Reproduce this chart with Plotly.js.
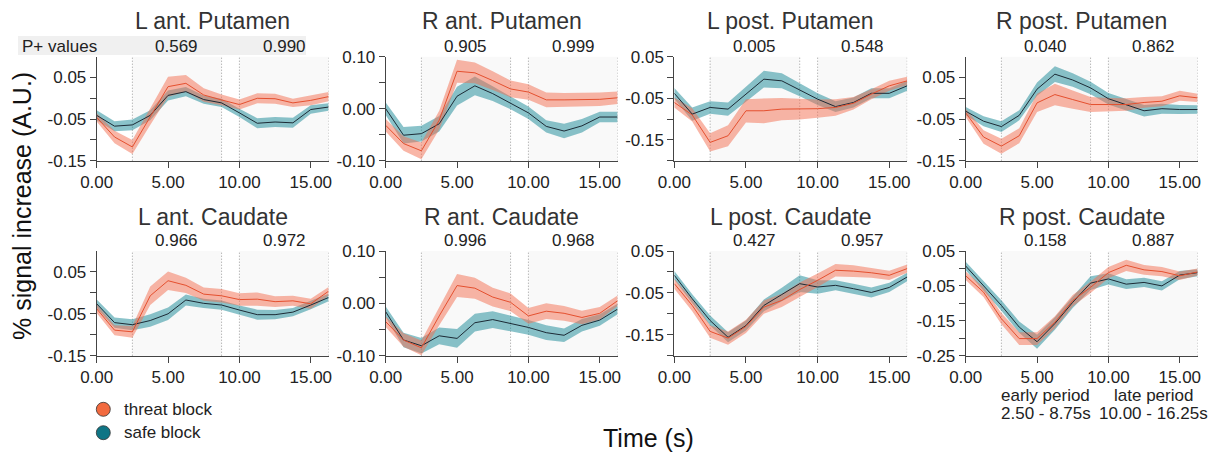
<!DOCTYPE html>
<html><head><meta charset="utf-8">
<script src="https://cdn.plot.ly/plotly-3.0.1.min.js"></script>
<style>html,body{margin:0;padding:0;background:#fff}</style>
</head><body><div id="chart" style="width:1217px;height:454px"></div>
<script>
// ---------- data ----------
const time = [0,1.25,2.5,3.75,5,6.25,7.5,8.75,10,11.25,12.5,13.75,15,16.25];
const regions = ["L ant. Putamen","R ant. Putamen","L post. Putamen","R post. Putamen",
                 "L ant. Caudate","R ant. Caudate","L post. Caudate","R post. Caudate"];
const pEarly = ["0.569","0.905","0.005","0.040","0.966","0.996","0.427","0.158"];
const pLate  = ["0.990","0.999","0.548","0.862","0.972","0.968","0.957","0.887"];
const periodBounds = [2.5, 8.75, 10, 16.25];

const threat_L_ant_Putamen = [-0.046,-0.093,-0.117,-0.044,0.028,0.036,0.008,-0.004,-0.015,0.000,-0.001,-0.011,-0.005,0.004];
const threatSem_L_ant_Putamen = [0.010,0.015,0.017,0.020,0.024,0.020,0.016,0.013,0.012,0.012,0.012,0.010,0.012,0.011];
const safe_L_ant_Putamen = [-0.041,-0.067,-0.064,-0.041,0.007,0.016,-0.003,-0.011,-0.035,-0.060,-0.057,-0.059,-0.027,-0.021];
const safeSem_L_ant_Putamen = [0.012,0.012,0.013,0.012,0.012,0.011,0.010,0.010,0.010,0.012,0.012,0.012,0.010,0.009];

const threat_R_ant_Putamen = [-0.032,-0.067,-0.081,-0.022,0.072,0.069,0.054,0.038,0.032,0.017,0.017,0.017,0.018,0.021];
const threatSem_R_ant_Putamen = [0.012,0.014,0.016,0.018,0.022,0.020,0.018,0.016,0.015,0.014,0.013,0.013,0.013,0.012];
const safe_R_ant_Putamen = [0.000,-0.051,-0.048,-0.029,0.024,0.044,0.029,0.011,-0.008,-0.034,-0.043,-0.033,-0.016,-0.016];
const safeSem_R_ant_Putamen = [0.012,0.016,0.015,0.015,0.018,0.018,0.014,0.012,0.012,0.012,0.014,0.013,0.010,0.010];

const threat_L_post_Putamen = [-0.060,-0.090,-0.156,-0.140,-0.080,-0.080,-0.076,-0.076,-0.075,-0.072,-0.062,-0.040,-0.020,-0.008];
const threatSem_L_post_Putamen = [0.012,0.016,0.022,0.025,0.028,0.030,0.027,0.025,0.022,0.020,0.015,0.012,0.012,0.010];
const safe_L_post_Putamen = [-0.038,-0.088,-0.072,-0.076,-0.040,-0.004,-0.008,-0.030,-0.052,-0.070,-0.060,-0.038,-0.038,-0.020];
const safeSem_L_post_Putamen = [0.013,0.016,0.015,0.016,0.018,0.020,0.018,0.015,0.014,0.013,0.012,0.012,0.012,0.012];

const threat_R_post_Putamen = [-0.035,-0.093,-0.115,-0.090,-0.011,0.009,-0.003,-0.015,-0.015,-0.015,-0.010,-0.007,0.006,0.001];
const threatSem_R_post_Putamen = [0.010,0.016,0.018,0.018,0.022,0.026,0.022,0.018,0.016,0.015,0.013,0.012,0.012,0.010];
const safe_R_post_Putamen = [-0.031,-0.055,-0.068,-0.041,0.022,0.058,0.044,0.025,-0.001,-0.015,-0.030,-0.025,-0.027,-0.027];
const safeSem_R_post_Putamen = [0.010,0.012,0.013,0.012,0.016,0.019,0.016,0.015,0.014,0.014,0.014,0.012,0.011,0.010];

const threat_L_ant_Caudate = [-0.038,-0.089,-0.093,-0.007,0.029,0.018,-0.003,-0.007,-0.016,-0.015,-0.021,-0.019,-0.026,0.004];
const threatSem_L_ant_Caudate = [0.010,0.012,0.014,0.022,0.022,0.018,0.016,0.016,0.015,0.016,0.013,0.012,0.012,0.010];
const safe_L_ant_Caudate = [-0.026,-0.071,-0.076,-0.066,-0.050,-0.017,-0.025,-0.029,-0.041,-0.052,-0.052,-0.046,-0.029,-0.011];
const safeSem_L_ant_Caudate = [0.010,0.012,0.013,0.015,0.015,0.013,0.011,0.011,0.011,0.012,0.011,0.010,0.010,0.009];

const threat_R_ant_Caudate = [-0.035,-0.070,-0.085,-0.024,0.034,0.029,0.012,0.002,-0.024,-0.015,-0.019,-0.027,-0.019,0.005];
const threatSem_R_ant_Caudate = [0.010,0.013,0.014,0.018,0.022,0.020,0.018,0.017,0.015,0.015,0.014,0.013,0.012,0.010];
const safe_R_ant_Caudate = [-0.016,-0.070,-0.081,-0.062,-0.067,-0.037,-0.031,-0.038,-0.046,-0.056,-0.061,-0.042,-0.032,-0.011];
const safeSem_R_ant_Caudate = [0.010,0.014,0.015,0.016,0.018,0.017,0.016,0.015,0.014,0.014,0.013,0.012,0.011,0.010];

const threat_L_post_Caudate = [-0.028,-0.080,-0.142,-0.158,-0.130,-0.084,-0.068,-0.042,-0.020,0.004,0.002,-0.002,-0.008,0.008];
const threatSem_L_post_Caudate = [0.012,0.014,0.015,0.016,0.016,0.016,0.016,0.017,0.016,0.015,0.014,0.012,0.011,0.010];
const safe_L_post_Caudate = [-0.008,-0.064,-0.116,-0.156,-0.128,-0.080,-0.054,-0.028,-0.036,-0.032,-0.040,-0.049,-0.037,-0.012];
const safeSem_L_post_Caudate = [0.010,0.011,0.012,0.012,0.012,0.014,0.016,0.020,0.016,0.012,0.012,0.012,0.011,0.010];

const threat_R_post_Caudate = [-0.021,-0.068,-0.144,-0.201,-0.201,-0.154,-0.092,-0.054,-0.012,0.009,-0.004,-0.009,-0.021,-0.010];
const threatSem_R_post_Caudate = [0.012,0.014,0.016,0.018,0.018,0.017,0.016,0.016,0.016,0.016,0.014,0.013,0.012,0.010];
const safe_R_post_Caudate = [0.007,-0.050,-0.106,-0.168,-0.210,-0.158,-0.097,-0.042,-0.030,-0.045,-0.040,-0.050,-0.019,-0.012];
const safeSem_R_post_Caudate = [0.012,0.014,0.015,0.016,0.020,0.018,0.016,0.020,0.016,0.014,0.013,0.013,0.012,0.010];

const yTickVals = [
  [-0.15,-0.1,-0.05,0,0.05], [-0.1,-0.05,0,0.05,0.1], [-0.2,-0.15,-0.1,-0.05,0,0.05], [-0.15,-0.1,-0.05,0,0.05],
  [-0.15,-0.1,-0.05,0,0.05], [-0.1,-0.05,0,0.05,0.1], [-0.2,-0.15,-0.1,-0.05,0,0.05], [-0.25,-0.2,-0.15,-0.1,-0.05,0,0.05]
];
const yTickText = [
  ["-0.15","","-0.05","","0.05"], ["-0.10","","0.00","","0.10"], ["","-0.15","","-0.05","","0.05"], ["-0.15","","-0.05","","0.05"],
  ["-0.15","","-0.05","","0.05"], ["-0.10","","0.00","","0.10"], ["","-0.15","","-0.05","","0.05"], ["-0.25","","-0.15","","-0.05","","0.05"]
];
const yRanges = [[-0.15,0.10],[-0.10,0.10],[-0.20,0.05],[-0.15,0.10],[-0.15,0.10],[-0.10,0.10],[-0.20,0.05],[-0.25,0.05]];
const xTickVals = [0,5,10,15];
const xTickText = ["0.00","5.00","10.00","15.00"];
const legendLabels = ["threat block","safe block"];

const threatMeans = [threat_L_ant_Putamen,threat_R_ant_Putamen,threat_L_post_Putamen,threat_R_post_Putamen,
                     threat_L_ant_Caudate,threat_R_ant_Caudate,threat_L_post_Caudate,threat_R_post_Caudate];
const threatSems = [threatSem_L_ant_Putamen,threatSem_R_ant_Putamen,threatSem_L_post_Putamen,threatSem_R_post_Putamen,
                    threatSem_L_ant_Caudate,threatSem_R_ant_Caudate,threatSem_L_post_Caudate,threatSem_R_post_Caudate];
const safeMeans = [safe_L_ant_Putamen,safe_R_ant_Putamen,safe_L_post_Putamen,safe_R_post_Putamen,
                   safe_L_ant_Caudate,safe_R_ant_Caudate,safe_L_post_Caudate,safe_R_post_Caudate];
const safeSems = [safeSem_L_ant_Putamen,safeSem_R_ant_Putamen,safeSem_L_post_Putamen,safeSem_R_post_Putamen,
                  safeSem_L_ant_Caudate,safeSem_R_ant_Caudate,safeSem_L_post_Caudate,safeSem_R_post_Caudate];

// ---------- layout geometry ----------
const W = 1217, H = 454;
const FONT = '"Liberation Sans", Arial, Helvetica, sans-serif';
const xDomPx = [[96.7,328.6],[385.7,617.6],[674.3,907.2],[965.7,1197.6]];
const yDomPx = [[56.7,160.7],[251,355.7]];
const px = v => v / W;
const py = v => 1 - v / H;

const threatFill = 'rgba(243,110,80,0.5)';
const safeFill = 'rgba(22,135,150,0.5)';
const threatLine = '#e4502f';
const safeLine = '#1c2a35';

const traces = [];
const shapes = [];
const annotations = [];
const layout = {
  width: W, height: H, margin: {l:0, r:0, t:0, b:0},
  paper_bgcolor: '#fff', plot_bgcolor: 'rgba(0,0,0,0)',
  showlegend: false, font: {family: FONT, color: '#222'}
};

function band(mean, sem) {
  const up = mean.map((m,i) => m + sem[i]);
  const lo = mean.map((m,i) => m - sem[i]);
  return {x: time.concat(time.slice().reverse()), y: up.concat(lo.slice().reverse())};
}

// header band behind P+ values
shapes.push({type:'rect', xref:'paper', yref:'paper', x0:px(18), x1:px(306), y0:py(55), y1:py(36),
  fillcolor:'#f0f0f0', line:{width:0}, layer:'below'});
annotations.push({xref:'paper', yref:'paper', x:px(20), y:py(46.5), text:'P+ values', showarrow:false,
  xanchor:'left', yanchor:'middle', font:{size:17, color:'#222', family:FONT}});

for (let k = 0; k < 8; k++) {
  const col = k % 4, row = Math.floor(k / 4);
  const n = k + 1;
  const xa = n === 1 ? 'x' : 'x' + n;
  const ya = n === 1 ? 'y' : 'y' + n;
  const xKey = n === 1 ? 'xaxis' : 'xaxis' + n;
  const yKey = n === 1 ? 'yaxis' : 'yaxis' + n;
  const dx = xDomPx[col], dy = yDomPx[row];
  layout[xKey] = {domain:[px(dx[0]), px(dx[1])], anchor: ya, range:[0,16.25], showgrid:false, zeroline:false,
    showline:true, linecolor:'#444', linewidth:1, ticks:'outside', ticklen:6, tickcolor:'#444',
    tickvals:xTickVals, ticktext:xTickText, tickfont:{size:17, color:'#222', family:FONT}};
  layout[yKey] = {domain:[py(dy[1]), py(dy[0])], anchor: xa, range:yRanges[k], showgrid:false, zeroline:false,
    showline:true, linecolor:'#444', linewidth:1, ticks:'outside', ticklen:6, tickcolor:'#444',
    tickvals:yTickVals[k], ticktext:yTickText[k], tickfont:{size:17, color:'#222', family:FONT}};

  // period shading
  shapes.push({type:'rect', xref:xa, yref:ya+' domain', x0:periodBounds[0], x1:periodBounds[1], y0:0, y1:1,
    fillcolor:'#f9f9f9', line:{width:0}, layer:'below'});
  shapes.push({type:'rect', xref:xa, yref:ya+' domain', x0:periodBounds[2], x1:periodBounds[3], y0:0, y1:1,
    fillcolor:'#f9f9f9', line:{width:0}, layer:'below'});
  periodBounds.forEach(b => shapes.push({type:'line', xref:xa, yref:ya+' domain', x0:b, x1:b, y0:0, y1:1,
    line:{color:'#9a9a9a', width:1, dash:'1px,2px'}, layer:'below'}));

  const sb = band(safeMeans[k], safeSems[k]);
  const tb = band(threatMeans[k], threatSems[k]);
  traces.push({type:'scatter', mode:'lines', x:sb.x, y:sb.y, xaxis:xa, yaxis:ya, fill:'toself',
    fillcolor:safeFill, line:{width:0}, hoverinfo:'skip'});
  traces.push({type:'scatter', mode:'lines', x:tb.x, y:tb.y, xaxis:xa, yaxis:ya, fill:'toself',
    fillcolor:threatFill, line:{width:0}, hoverinfo:'skip'});
  traces.push({type:'scatter', mode:'lines', x:time, y:safeMeans[k], xaxis:xa, yaxis:ya,
    line:{color:safeLine, width:1}, name:legendLabels[1]});
  traces.push({type:'scatter', mode:'lines', x:time, y:threatMeans[k], xaxis:xa, yaxis:ya,
    line:{color:threatLine, width:1}, name:legendLabels[0]});

  // titles and p values
  const titleY = row === 0 ? 21.5 : 216.5;
  const pY = row === 0 ? 46.5 : 240.5;
  annotations.push({xref:xa+' domain', yref:'paper', x:0.5, y:py(titleY), text:regions[k], showarrow:false,
    xanchor:'center', yanchor:'middle', font:{size:23, color:'#333', family:FONT}});
  annotations.push({xref:xa, yref:'paper', x:(periodBounds[0]+periodBounds[1])/2, y:py(pY), text:pEarly[k],
    showarrow:false, xanchor:'center', yanchor:'middle', font:{size:17, color:'#222', family:FONT}});
  annotations.push({xref:xa, yref:'paper', x:(periodBounds[2]+periodBounds[3])/2, y:py(pY), text:pLate[k],
    showarrow:false, xanchor:'center', yanchor:'middle', font:{size:17, color:'#222', family:FONT}});
}

// period descriptions under last panel
annotations.push({xref:'x8', yref:'paper', x:(periodBounds[0]+periodBounds[1])/2, y:py(395), text:'early period',
  showarrow:false, xanchor:'center', yanchor:'middle', font:{size:17, color:'#222', family:FONT}});
annotations.push({xref:'x8', yref:'paper', x:(periodBounds[2]+periodBounds[3])/2, y:py(395), text:'late period',
  showarrow:false, xanchor:'center', yanchor:'middle', font:{size:17, color:'#222', family:FONT}});
annotations.push({xref:'x8', yref:'paper', x:(periodBounds[0]+periodBounds[1])/2, y:py(413.5), text:'2.50 - 8.75s',
  showarrow:false, xanchor:'center', yanchor:'middle', font:{size:17, color:'#222', family:FONT}});
annotations.push({xref:'x8', yref:'paper', x:(periodBounds[2]+periodBounds[3])/2, y:py(413.5), text:'10.00 - 16.25s',
  showarrow:false, xanchor:'center', yanchor:'middle', font:{size:17, color:'#222', family:FONT}});

// axis titles
annotations.push({xref:'paper', yref:'paper', x:px(648), y:py(438), text:'Time (s)', showarrow:false,
  xanchor:'center', yanchor:'middle', font:{size:25, color:'#111', family:FONT}});
annotations.push({xref:'paper', yref:'paper', x:px(22), y:py(206), text:'% signal increase (A.U.)', showarrow:false,
  textangle:-90, xanchor:'center', yanchor:'middle', font:{size:25, color:'#111', family:FONT}});

// legend (custom markers)
const legendColors = ['#f26a3f', '#0f7585'];
const legendY = [409.3, 432.7];
legendLabels.forEach((lab, i) => {
  shapes.push({type:'circle', xref:'paper', yref:'paper', x0:px(103.3-7), x1:px(103.3+7), y0:py(legendY[i]+7), y1:py(legendY[i]-7),
    fillcolor:legendColors[i], line:{color:'#333', width:0.8}});
  annotations.push({xref:'paper', yref:'paper', x:px(121.5), y:py(legendY[i]), text:lab, showarrow:false,
    xanchor:'left', yanchor:'middle', font:{size:17, color:'#222', family:FONT}});
});

layout.shapes = shapes;
layout.annotations = annotations;
Plotly.newPlot('chart', traces, layout, {staticPlot:true, displayModeBar:false});
</script></body></html>
